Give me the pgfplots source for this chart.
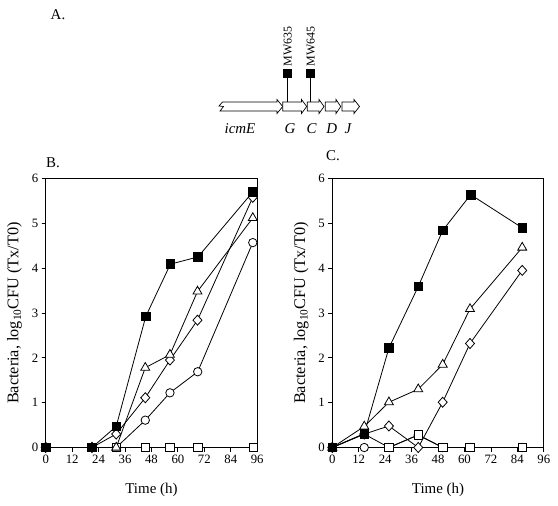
\documentclass[border=0pt]{standalone}
\usepackage{fontspec}
\setmainfont{Liberation Serif}
\usepackage{pgfplots}
\pgfplotsset{compat=1.18}
\pgfplotsset{
  panel/.style={
    scale only axis, width=211.5bp, height=269bp,
    xmin=0, xmax=96, ymin=0, ymax=6,
    xtick={0,12,...,96}, ytick={0,1,...,6},
    tick align=outside, tick pos=left, major tick length=4bp,
    axis line style={line width=0.8bp},
    every tick/.style={black, line width=0.8bp},
    tick label style={font=\fontsize{12.8}{14}\selectfont},
    xlabel style={font=\fontsize{15}{17}\selectfont, yshift=-13bp},
    ylabel style={font=\fontsize{16.3}{18}\selectfont},
    ylabel shift=3bp,
    xlabel={Time (h)},
    ylabel={Bacteria, log\textsubscript{10}CFU (Tx/T0)},
    /pgf/number format/assume math mode=true,
    clip=false,
  },
  ser/.style={black, line width=0.8bp},
  fsq/.style={ser, mark=square*, mark size=4.3bp, mark options={fill=black, solid}},
  osq/.style={ser, mark=square*, mark size=4.3bp, mark options={fill=white, solid}},
  tri/.style={ser, mark=triangle*, mark size=5.2bp, mark options={fill=white, solid}},
  dia/.style={ser, mark=diamond*, mark size=5bp, mark options={fill=white, solid, xscale=1.2}},
  circ/.style={ser, mark=*, mark size=4.2bp, mark options={fill=white, solid}},
}
\newcommand{\genearrow}[3]{%
  \draw[line width=0.7bp, fill=white] (#1,-102) -- (#2,-102) -- (#2,-99.5) -- (#3,-106.5) -- (#2,-113.5) -- (#2,-111) -- (#1,-111) -- cycle;}
\begin{document}
\begin{tikzpicture}[x=1bp,y=1bp]
\path[use as bounding box] (0,0) rectangle (558,-506);
% panel labels
\node[font=\fontsize{15}{17}\selectfont] at (58,-15) {A.};
\node[font=\fontsize{15}{17}\selectfont] at (53,-162.5) {B.};
\node[font=\fontsize{15}{17}\selectfont] at (333,-156) {C.};
% gene map
\draw[line width=0.7bp, fill=white] (222.5,-102) -- (277,-102) -- (277,-99.5) -- (282.7,-106.5) -- (277,-113.5) -- (277,-111) -- (220,-111) -- (223.5,-106.5) -- (219,-106) -- cycle;
\genearrow{282.7}{301.5}{306.7}
\genearrow{307.3}{319}{324}
\genearrow{325.3}{336}{340.7}
\genearrow{342}{354}{359.5}
\draw[line width=0.8bp] (287.7,-77) -- (287.7,-102);
\draw[line width=0.8bp] (310.7,-77) -- (310.7,-102);
\fill (283.2,-69.3) rectangle (292.2,-78.3);
\fill (306.2,-69.3) rectangle (315.2,-78.3);
\node[rotate=90, anchor=west, font=\fontsize{12}{14}\selectfont, inner sep=0pt] at (287.7,-66.5) {MW635};
\node[rotate=90, anchor=west, font=\fontsize{12}{14}\selectfont, inner sep=0pt] at (310.7,-66.5) {MW645};
\node[font=\fontsize{15}{17}\selectfont\itshape] at (240,-128.5) {icmE};
\node[font=\fontsize{15}{17}\selectfont\itshape] at (290,-128.5) {G};
\node[font=\fontsize{15}{17}\selectfont\itshape] at (311.7,-128.5) {C};
\node[font=\fontsize{15}{17}\selectfont\itshape] at (331.7,-128.5) {D};
\node[font=\fontsize{15}{17}\selectfont\itshape] at (348,-128.5) {J};
% panel B
\begin{axis}[panel, at={(45.7bp,-447.5bp)}, anchor=south west]
\addplot[circ] coordinates {(0,0)(21,0)(32,0)(45.2,0.61)(56.4,1.22)(69,1.69)(94,4.57)};
\addplot[osq] coordinates {(0,0)(21,0)(32,0)(45.2,0)(56.5,0)(69,0)(94.3,0)};
\addplot[dia] coordinates {(0,0)(21,0)(32,0.3)(45.2,1.11)(56.4,1.95)(68.9,2.84)(94,5.58)};
\addplot[tri] coordinates {(0,0)(21,0)(32,0)(45.2,1.78)(56.4,2.07)(68.9,3.48)(94,5.12)};
\addplot[fsq] coordinates {(0,0)(21,0)(32,0.47)(45.4,2.92)(56.6,4.09)(69.1,4.25)(94,5.7)};
\end{axis}
% panel C
\begin{axis}[panel, at={(332.3bp,-447.5bp)}, anchor=south west]
\addplot[circ] coordinates {(0,0)(14.5,0)(25.7,0)(39,0.28)(50.1,0)(62.5,0)(86.2,0)};
\addplot[osq] coordinates {(0,0)(14.5,0.3)(25.7,0)(39,0.28)(50.1,0)(62.5,0)(86.2,0)};
\addplot[dia] coordinates {(0,0)(14.5,0.3)(25.7,0.48)(39,0)(50.1,1.01)(62.5,2.32)(86.2,3.95)};
\addplot[tri] coordinates {(0,0)(14.5,0.47)(25.7,1.01)(39,1.30)(50.1,1.85)(62.5,3.09)(86.2,4.46)};
\addplot[fsq] coordinates {(0,0)(14.5,0.31)(25.7,2.22)(39,3.59)(50.1,4.84)(62.8,5.64)(86.2,4.90)};
\end{axis}
\end{tikzpicture}
\end{document}
